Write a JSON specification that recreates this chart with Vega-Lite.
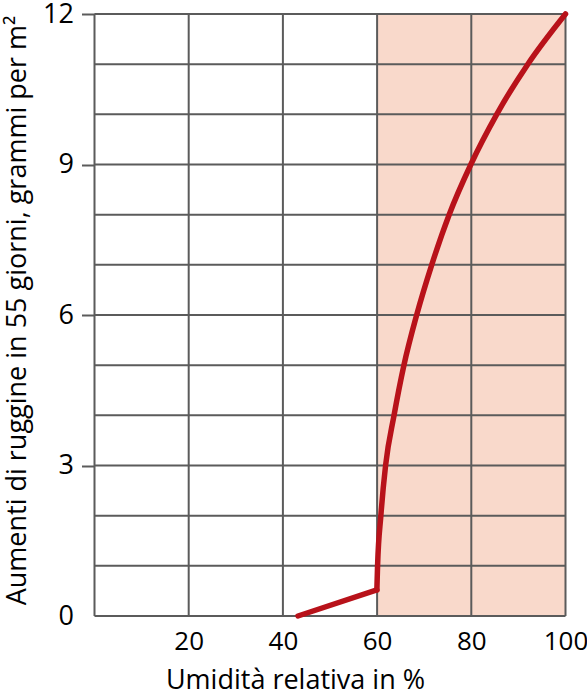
{
  "$schema": "https://vega.github.io/schema/vega-lite/v6.json",
  "width": 471,
  "height": 602,
  "autosize": "none",
  "padding": {"left": 94.5, "top": 14, "right": 21.5, "bottom": 84},
  "background": "white",
  "config": {
    "view": {"stroke": null},
    "font": "Open Sans",
    "axis": {"labelFont": "Open Sans", "titleFont": "Open Sans", "labelColor": "#000000", "titleColor": "#000000", "titleFontWeight": "normal"}
  },
  "layer": [
    {
      "data": {"values": [{"x": 60, "x2": 100, "y": 0, "y2": 12}]},
      "mark": {"type": "rect", "color": "#f9d9cb"},
      "encoding": {
        "x": {"field": "x", "type": "quantitative",
          "scale": {"domain": [0, 100], "nice": false, "zero": false},
          "axis": {"values": [20, 40, 60, 80, 100], "grid": false, "domain": false, "ticks": false, "tickSize": 0,
            "labelFontSize": 26, "labelPadding": 12, "labelFlush": false,
            "title": "Umidità relativa in %", "titleFontSize": 27, "titleX": 200.5, "titleY": 72, "titleBaseline": "alphabetic", "titleAlign": "center"}},
        "x2": {"field": "x2"},
        "y": {"field": "y", "type": "quantitative",
          "scale": {"domain": [0, 12], "nice": false, "zero": false},
          "axis": {"values": [0, 3, 6, 9, 12], "grid": false, "domain": false, "tickSize": 13, "tickWidth": 2,
            "tickColor": {"condition": {"test": "datum.value === 0", "value": "transparent"}, "value": "#5b5b5b"},
            "labelFontSize": 27, "labelPadding": 8, "labelFlush": false,
            "title": "Aumenti di ruggine in 55 giorni, grammi per m²", "titleFontSize": 27, "titleX": -69.5, "titleY": 296, "titleBaseline": "alphabetic", "titleAngle": -90, "titleAlign": "center"}},
        "y2": {"field": "y2"}
      }
    },
    {
      "data": {"values": [{"x": 0}, {"x": 20}, {"x": 40}, {"x": 60}, {"x": 80}, {"x": 100}]},
      "mark": {"type": "rule", "color": "#5b5b5b", "strokeWidth": 2},
      "encoding": {"x": {"field": "x", "type": "quantitative"}}
    },
    {
      "data": {"values": [{"y": 0}, {"y": 1}, {"y": 2}, {"y": 3}, {"y": 4}, {"y": 5}, {"y": 6}, {"y": 7}, {"y": 8}, {"y": 9}, {"y": 10}, {"y": 11}, {"y": 12}]},
      "mark": {"type": "rule", "color": "#5b5b5b", "strokeWidth": 2},
      "encoding": {"y": {"field": "y", "type": "quantitative"}}
    },
    {
      "data": {"values": [
        {"part": "a", "x": 43.2, "y": 0},
        {"part": "a", "x": 59.95, "y": 0.52},
        {"part": "b", "x": 59.95, "y": 0.52},
        {"part": "b", "x": 60.1, "y": 1},
        {"part": "b", "x": 60.8, "y": 2},
        {"part": "b", "x": 61.8, "y": 3},
        {"part": "b", "x": 63.6, "y": 4},
        {"part": "b", "x": 65.7, "y": 5},
        {"part": "b", "x": 68.4, "y": 6},
        {"part": "b", "x": 71.6, "y": 7},
        {"part": "b", "x": 75.3, "y": 8},
        {"part": "b", "x": 79.9, "y": 9},
        {"part": "b", "x": 85.4, "y": 10},
        {"part": "b", "x": 92.0, "y": 11},
        {"part": "b", "x": 100, "y": 12}
      ]},
      "mark": {"type": "line", "color": "#b8121a", "strokeWidth": 5.5, "strokeJoin": "round", "strokeCap": "round", "interpolate": "monotone"},
      "encoding": {
        "x": {"field": "x", "type": "quantitative"},
        "y": {"field": "y", "type": "quantitative"},
        "detail": {"field": "part", "type": "nominal"}
      }
    }
  ]
}
